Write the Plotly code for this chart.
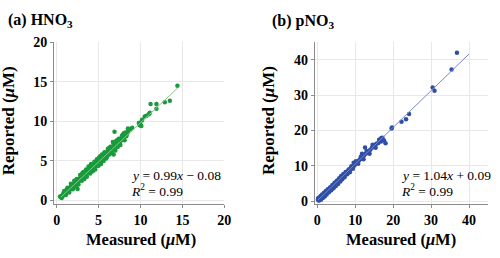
import plotly.graph_objects as go

# Panel (a) HNO3: measured vs reported (µM)
hno3_measured = [0.4,0.5,0.6,0.7,0.8,0.8,0.9,1.0,1.0,1.1,1.2,1.2,1.3,1.3,1.4,1.4,1.5,1.5,1.6,1.6,
                 1.7,1.7,1.8,1.8,1.9,1.9,2.0,2.0,2.1,2.1,2.2,2.2,2.3,2.3,2.4,2.4,2.5,2.5,2.5,2.6,
                 2.6,2.7,2.7,2.8,2.8,2.9,2.9,3.0,3.0,3.1,3.1,3.2,3.2,3.3,3.3,3.4,3.4,3.5,3.5,3.6,
                 3.6,3.7,3.7,3.8,3.8,3.9,3.9,4.0,4.0,4.1,4.1,4.2,4.2,4.3,4.3,4.4,4.4,4.5,4.5,4.6,
                 4.6,4.7,4.7,4.8,4.8,4.9,4.9,5.0,5.0,5.1,5.1,5.2,5.2,5.3,5.3,5.4,5.4,5.5,5.5,5.6,
                 5.6,5.7,5.8,5.8,5.9,6.0,6.0,6.1,6.2,6.2,6.3,6.4,6.5,6.5,6.6,6.7,6.7,6.8,6.8,6.9,
                 6.9,7.0,7.0,7.1,7.2,7.2,7.3,7.4,7.5,7.5,7.6,7.7,7.7,7.8,7.8,7.9,8.0,8.2,8.5,8.5,
                 8.8,9.8,9.9,10.0,10.1,10.15,10.2,10.5,10.7,11.0,11.1,11.2,11.9,11.9,12.9,13.5,14.4,
                 0.6,0.9,1.1,1.3,1.5,1.7,1.9,2.1,2.3,2.4,2.6,2.8,3.0,3.1,3.3,3.5,3.6,3.8,4.0,4.1,
                 4.3,4.5,4.6,4.8,5.0,5.1,5.3,5.4,5.6,5.7,5.9,6.1,6.3,6.4,6.6,6.8,7.0,7.1,7.3,7.4,
                 7.6,7.9,8.1,8.3,8.0,7.2,6.2,5.2,4.2,3.2,2.2,1.2,2.0,3.0,4.0,5.0,6.0,7.0,8.4,8.6,9.0]
hno3_reported = [0.5,0.4,0.6,0.5,0.7,0.9,0.8,0.9,1.1,0.9,1.2,1.0,1.3,1.1,1.2,1.5,1.4,1.3,1.6,1.4,
                 1.5,1.8,1.7,1.6,1.9,1.7,1.8,2.1,2.0,1.9,2.2,2.0,2.1,2.4,2.3,2.1,1.45,2.5,2.3,2.4,
                 2.7,2.6,2.5,2.8,2.6,2.7,3.0,2.9,2.8,3.1,2.9,3.0,3.3,3.2,3.0,3.4,3.2,3.3,3.6,3.5,
                 3.3,3.7,3.5,3.6,3.9,3.8,3.6,4.0,3.8,3.9,4.2,4.1,3.9,4.3,4.0,4.2,4.5,4.4,4.1,4.6,
                 4.3,4.5,4.8,4.7,4.4,4.9,4.6,4.8,5.1,5.0,4.7,5.2,4.9,5.1,5.4,5.2,5.0,5.5,5.2,5.4,
                 5.7,5.5,5.6,5.9,5.7,5.8,6.1,6.0,6.1,5.9,6.3,6.2,6.5,6.2,6.4,6.6,7.4,5.8,6.7,6.8,
                 8.7,6.9,6.6,7.0,7.1,6.8,7.2,7.3,7.6,7.2,7.5,7.9,7.6,7.7,8.2,7.8,7.9,8.6,8.7,9.1,
                 9.0,9.8,9.5,9.6,9.4,10.1,10.2,10.6,10.7,10.9,11.1,12.2,11.6,12.2,12.4,12.6,14.5,
                 0.3,1.2,0.7,1.6,1.0,2.1,1.4,2.5,1.8,2.7,2.0,3.2,2.5,3.5,2.7,3.9,3.0,4.3,3.4,4.6,
                 3.7,4.9,3.9,5.2,4.4,5.5,4.6,5.8,5.0,6.1,5.3,6.5,5.8,6.8,6.0,7.1,6.3,7.5,6.8,7.8,
                 7.0,8.3,7.6,8.1,8.5,7.6,6.6,5.6,4.5,3.6,2.5,1.4,1.5,3.3,4.3,5.3,5.5,7.3,8.4,8.9,9.2]
hno3_fit_x = [0.5, 14.5]
hno3_slope, hno3_icpt = 0.99, -0.08

# Panel (b) pNO3
pno3_measured = [0.2,0.3,0.4,0.5,0.6,0.7,0.8,0.9,1.0,1.1,1.2,1.3,1.4,1.5,1.6,1.7,1.8,1.9,2.0,2.1,
                 2.2,2.3,2.4,2.5,2.6,2.7,2.8,2.9,3.0,3.2,3.3,3.5,3.6,3.8,3.9,4.1,4.2,4.4,4.5,4.7,
                 4.8,5.0,5.1,5.3,5.4,5.6,5.7,5.9,6.0,6.2,6.4,6.5,6.7,6.9,7.0,7.2,7.4,7.6,7.8,8.0,
                 8.2,8.5,8.7,9.0,9.2,9.5,9.6,9.8,10.0,10.3,10.6,11.0,11.3,11.7,11.8,12.0,12.3,12.6,
                 12.8,13.2,13.6,14.0,14.4,14.8,15.2,15.6,16.1,16.6,16.9,17.6,18.0,19.6,19.7,22.2,
                 23.4,24.2,30.4,30.9,35.4,36.8,
                 0.3,0.5,0.8,1.0,1.3,1.5,1.8,2.0,2.3,2.5,2.8,3.1,3.4,3.7,4.0,4.3,4.6,4.9,5.2,5.5,
                 5.8,6.1,6.3,6.6,6.9,7.2,7.5,7.9,8.3,8.6,9.0,9.4,10.2,10.8,11.5,12.2,13.0,13.8,14.6,
                 15.4,16.3,16.8,17.2,3.5,2.0,1.0,0.6,0.4]
pno3_reported = [0.4,0.6,0.3,0.8,0.5,0.9,0.6,1.1,0.8,1.3,1.0,1.5,1.2,1.7,1.4,1.9,1.6,2.1,1.8,2.4,
                 2.1,2.6,2.3,2.8,2.5,3.0,2.7,3.2,2.9,3.5,3.2,3.8,3.5,4.1,3.8,4.4,4.1,4.7,4.4,5.0,
                 4.8,5.4,5.1,5.7,5.4,6.0,5.7,6.3,6.1,6.6,6.4,7.0,6.8,7.3,7.1,7.7,7.5,8.0,8.2,8.3,
                 8.7,8.8,9.2,9.4,9.7,9.9,10.9,10.1,10.6,10.8,11.2,11.5,11.9,12.2,13.4,12.6,12.9,15.2,
                 13.4,13.8,14.2,14.6,15.1,15.5,15.9,16.3,16.5,17.5,17.9,17.2,16.4,20.6,20.9,22.5,
                 23.2,24.7,32.2,31.3,37.3,42.0,
                 0.9,0.2,1.3,0.4,1.9,0.9,2.4,1.3,2.9,1.9,3.4,2.5,3.9,3.1,4.6,3.7,5.2,4.3,5.8,4.9,
                 6.5,5.6,7.1,6.2,7.7,6.8,8.3,7.6,9.0,8.2,9.9,9.2,11.3,10.6,12.6,11.9,14.2,13.4,16.0,
                 15.1,17.4,16.9,18.0,3.2,2.3,1.5,0.9,0.7]
pno3_fit_x = [0.2, 40.0]
pno3_slope, pno3_icpt = 1.04, 0.09

GREEN = "#1a9a3c"
GREEN_LINE = "#86c48f"
BLUE = "#2f4ea6"
BLUE_LINE = "#7a86c6"
SERIF = "Liberation Serif"

fig = go.Figure()
fig.add_trace(go.Scatter(x=hno3_measured, y=hno3_reported, mode="markers",
                         marker=dict(color=GREEN, size=4.5), xaxis="x", yaxis="y", showlegend=False))
fig.add_trace(go.Scatter(x=hno3_fit_x, y=[hno3_slope * v + hno3_icpt for v in hno3_fit_x], mode="lines",
                         line=dict(color=GREEN_LINE, width=1), xaxis="x", yaxis="y", showlegend=False))
fig.add_trace(go.Scatter(x=pno3_measured, y=pno3_reported, mode="markers",
                         marker=dict(color=BLUE, size=4.5), xaxis="x2", yaxis="y2", showlegend=False))
fig.add_trace(go.Scatter(x=pno3_fit_x, y=[pno3_slope * v + pno3_icpt for v in pno3_fit_x], mode="lines",
                         line=dict(color=BLUE_LINE, width=1), xaxis="x2", yaxis="y2", showlegend=False))

tickfont = dict(family=SERIF, size=14, color="black", weight="bold")
axis_common = dict(showgrid=True, gridcolor="#e8e8e8", gridwidth=1, zeroline=False,
                   showline=True, linecolor="#8c8c8c", linewidth=1, ticks="outside",
                   ticklen=3, tickcolor="#8c8c8c", tickfont=tickfont)

ydom = [1 - 207 / 258, 1 - 37 / 258]
fig.update_layout(
    width=500, height=258, margin=dict(l=0, r=0, t=0, b=0),
    paper_bgcolor="white", plot_bgcolor="white",
    xaxis=dict(domain=[54 / 500, 227 / 500], range=[-0.3, 20], tickvals=[0, 5, 10, 15, 20], anchor="y", **axis_common),
    yaxis=dict(domain=ydom, range=[-0.5, 20], tickvals=[0, 5, 10, 15, 20], anchor="x", **axis_common),
    xaxis2=dict(domain=[319 / 500, 495 / 500], range=[-0.6, 45], tickvals=[0, 10, 20, 30, 40], anchor="y2", **axis_common),
    yaxis2=dict(domain=ydom, range=[-0.9, 45], tickvals=[0, 10, 20, 30, 40], anchor="x2", **axis_common),
)

def ann(text, x, y, size, xanchor="center", yanchor="middle", angle=0, bold=False):
    fig.add_annotation(text=text, x=x / 500, y=1 - y / 258, xref="paper", yref="paper",
                       xanchor=xanchor, yanchor=yanchor, textangle=angle, showarrow=False,
                       align="left", borderpad=0,
                       font=dict(family=SERIF, size=size, color="black", weight="bold" if bold else "normal"))

ann("(a) HNO<sub>3</sub>", 6, 14, 16, xanchor="left", bold=True)
ann("(b) pNO<sub>3</sub>", 274, 15, 16, xanchor="left", bold=True)
ann("Measured (<i>μ</i>M)", 142, 244, 16.5, bold=True)
ann("Measured (<i>μ</i>M)", 407, 244, 16.5, bold=True)
ann("Reported (<i>μ</i>M)", 8, 119, 17, angle=-90, bold=True)
ann("Reported (<i>μ</i>M)", 272, 119, 17, angle=-90, bold=True)
ann("<i>y</i> = 0.99<i>x</i> − 0.08", 131, 177, 13.5, xanchor="left")
ann("<i>R</i><sup>2</sup> = 0.99", 131, 192, 13.5, xanchor="left")
ann("<i>y</i> = 1.04<i>x</i> + 0.09", 405, 177, 13.5, xanchor="left")
ann("<i>R</i><sup>2</sup> = 0.99", 405, 192, 13.5, xanchor="left")

fig.write_html("out.html", config={"displayModeBar": False},
               post_script="document.body.style.margin='0';document.body.style.padding='0';")
